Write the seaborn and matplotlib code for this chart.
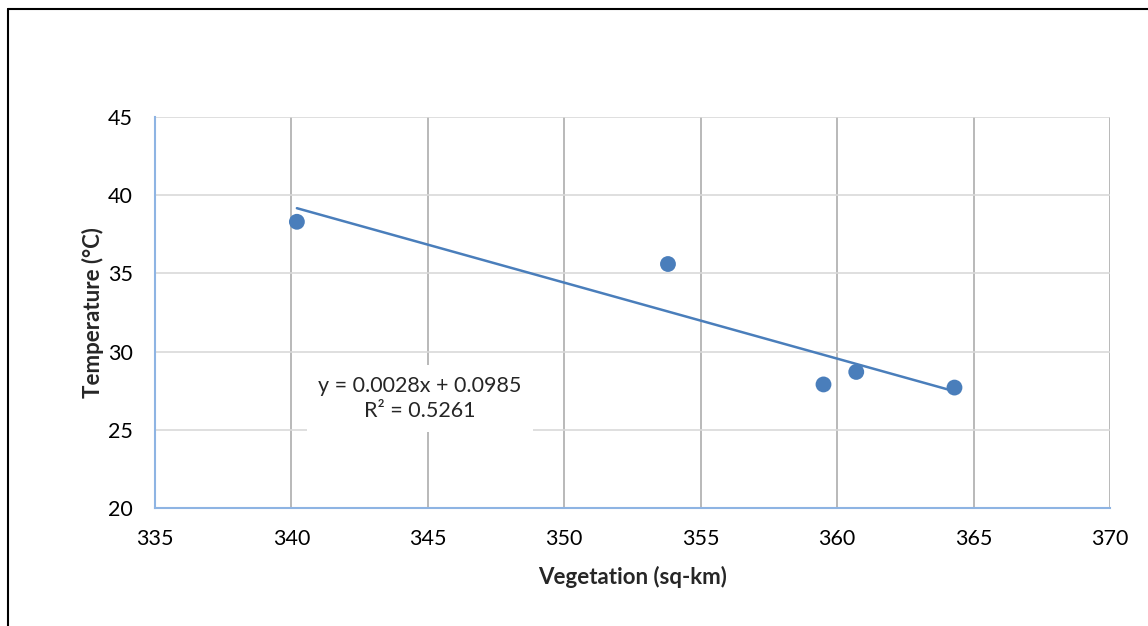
import numpy as np
import pandas as pd
import matplotlib
matplotlib.use("Agg")
import matplotlib.pyplot as plt
import seaborn as sns
from matplotlib.lines import Line2D

# ==============================
# DONNÉES
# ==============================

vegetation = [340.2, 353.8, 359.5, 360.7, 364.3]
temperature = [38.3, 35.6, 27.9, 28.7, 27.7]

x_ticks = [335, 340, 345, 350, 355, 360, 365, 370]
y_ticks = [20, 25, 30, 35, 40, 45]

equation_text = "y = 0.0028x + 0.0985\nR² = 0.5261"

df = pd.DataFrame({"vegetation": vegetation, "temperature": temperature})

# ==============================
# STYLE
# ==============================

sns.set_style("white")
plt.rcParams["font.family"] = ["Lato", "DejaVu Sans"]

blue = "#4A7EBB"

fig = plt.figure(figsize=(11.48, 6.26), dpi=100)
ax = fig.add_axes([155 / 1148, 1 - 508 / 626, 955 / 1148, 391 / 626])

# ==============================
# NUAGE + TENDANCE
# ==============================

sns.regplot(
    data=df,
    x="vegetation",
    y="temperature",
    ci=None,
    ax=ax,
    color=blue,
    scatter_kws={"s": 130, "alpha": 1, "zorder": 4, "edgecolor": "none"},
    line_kws={"linewidth": 1.8, "zorder": 3},
)

ax.set_xlim(335, 370)
ax.set_ylim(20, 45)
ax.set_xticks(x_ticks)
ax.set_yticks(y_ticks)

# grilles
for v in x_ticks[1:]:
    ax.axvline(v, color="#A6A6A6", linewidth=1.1, zorder=1)
for h in y_ticks[1:]:
    ax.axhline(h, color="#D9D9D9", linewidth=1.2, zorder=1)

for side in ["top", "right"]:
    ax.spines[side].set_visible(False)
ax.spines["left"].set_color("#8EB4E3")
ax.spines["bottom"].set_color("#8EB4E3")
ax.spines["left"].set_linewidth(1.5)
ax.spines["bottom"].set_linewidth(1.5)
ax.spines["left"].set_zorder(2)
ax.spines["bottom"].set_zorder(2)

ax.tick_params(axis="both", length=0, labelsize=15.5, colors="black")
ax.tick_params(axis="y", pad=16)
ax.tick_params(axis="x", pad=15)

ax.set_xlabel("Vegetation (sq-km)", fontsize=16, fontweight="bold", labelpad=12)
ax.set_ylabel("Temperature (°C)", fontsize=16, fontweight="bold", labelpad=3)

ax.text(
    344.7, 27.0, equation_text,
    ha="center", va="center", fontsize=15.5, linespacing=1.3,
    bbox=dict(facecolor="white", edgecolor="none", pad=8),
    zorder=5,
)

# cadre extérieur (haut et gauche)
fig.add_artist(Line2D([8 / 1148, 1], [1 - 9 / 626, 1 - 9 / 626],
                      transform=fig.transFigure, color="black", linewidth=1.5))
fig.add_artist(Line2D([8 / 1148, 8 / 1148], [0, 1 - 9 / 626],
                      transform=fig.transFigure, color="black", linewidth=1.5))

fig.savefig("out.png", dpi=100)
plt.close()
